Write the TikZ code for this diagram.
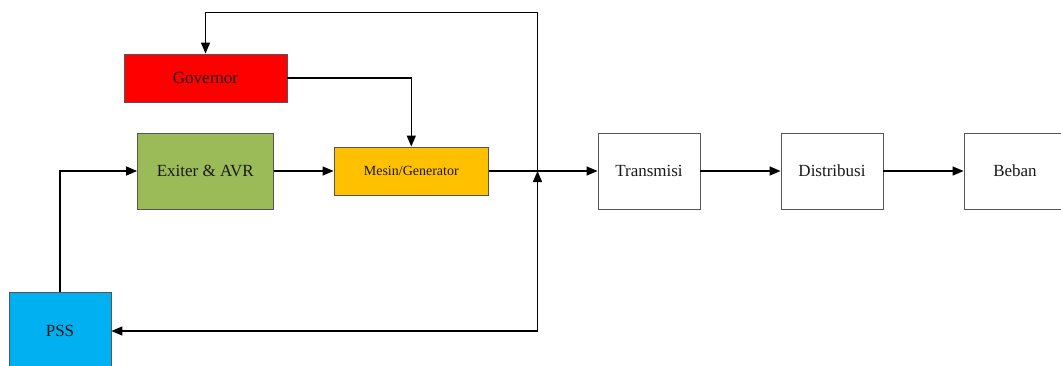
\documentclass[tikz,border=0pt]{standalone}
\usepackage{fontspec}
\setmainfont{Liberation Serif}
\usetikzlibrary{arrows.meta}
\definecolor{govred}{RGB}{255,0,0}
\definecolor{excgreen}{RGB}{155,187,89}
\definecolor{genorange}{RGB}{255,192,0}
\definecolor{pssblue}{RGB}{0,176,240}
\definecolor{boxline}{RGB}{85,85,85}
\begin{document}
\begin{tikzpicture}[x=1pt,y=-1pt,
  blk/.style={draw=boxline,line width=0.9pt,inner sep=0pt,font=\fontsize{17}{20}\selectfont,text=black!90},
  arr/.style={line width=1.4pt,-{Triangle[length=11pt,width=9pt]}},
  ln/.style={line width=1.4pt}]
\useasboundingbox (0,0) rectangle (1061,365);
\clip (0,0) rectangle (1061,365);
\node[blk,fill=govred,minimum width=163pt,minimum height=48pt] (gov) at (205.5,78) {Governor};
\node[blk,fill=excgreen,minimum width=135.5pt,minimum height=76pt] (exc) at (205.3,171) {Exiter \& AVR};
\node[blk,fill=genorange,minimum width=154.6pt,minimum height=48pt,font=\fontsize{14}{16}\selectfont] (gen) at (411.3,171) {Mesin/Generator};
\node[blk,fill=white,minimum width=102pt,minimum height=76pt] (trans) at (649,171) {Transmisi};
\node[blk,fill=white,minimum width=102pt,minimum height=76pt] (dist) at (832,171) {Distribusi};
\node[blk,fill=white,minimum width=102pt,minimum height=76pt] (beban) at (1015,171) {Beban};
\node[blk,fill=pssblue,minimum width=102pt,minimum height=78pt] (pss) at (60,331) {PSS};
\coordinate (j) at (537.5,171);
\coordinate (jb) at (537.5,186);
\coordinate (top) at (537.5,12.5);
\coordinate (bot) at (537.5,331);
\draw[arr] (gov.east) -| (gen.north);
\draw[arr] (exc.east) -- (gen.west);
\draw[arr] (gen.east) -- (trans.west);
\draw[arr] (trans.east) -- (dist.west);
\draw[arr] (dist.east) -- (beban.west);
\draw[arr] (pss.north) |- (exc.west);
\draw[arr] (j) -- (top) -| (gov.north);
\draw[arr] (j) -- (bot) -- (pss.east);
\draw[arr] (jb) -- (j);
\end{tikzpicture}
\end{document}
